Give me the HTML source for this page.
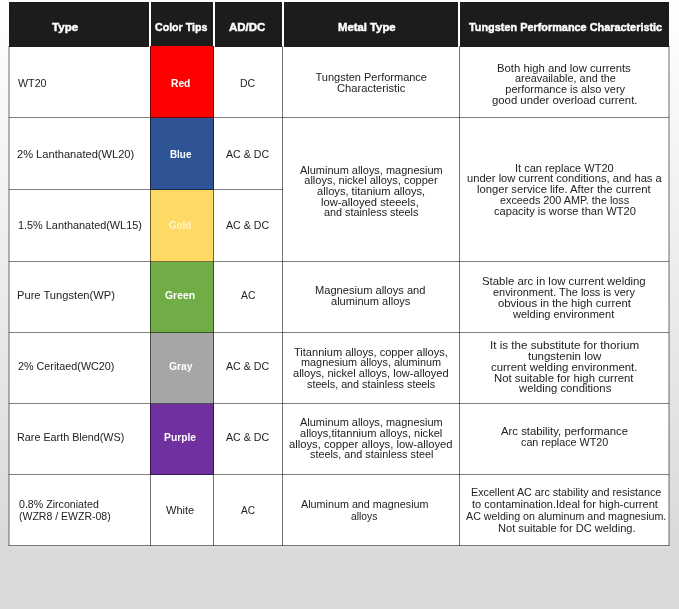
<!DOCTYPE html>
<html><head><meta charset="utf-8">
<style>
html,body{margin:0;padding:0}
body{width:679px;height:609px;overflow:hidden;position:relative;
 background:linear-gradient(to bottom,#ffffff 0px,#dadada 545px,#dadada 609px);
 font-family:"Liberation Sans",sans-serif;color:#222;}
#tbl{position:absolute;left:9px;top:2px;width:660px;height:543.5px;background:#fff}
.a{position:absolute}
.hd{background:#1c1c1c;top:2px;height:44.6px}
.hl{background:#808080;height:1px;left:9px;width:660px;mix-blend-mode:multiply}
.vl{background:#747474;width:1px;top:46px;height:500px;mix-blend-mode:multiply}
.sw{left:150px;width:64px;box-sizing:border-box}
.t{position:absolute;white-space:nowrap;font-size:11px;line-height:12px;height:12px;transform-origin:0 50%}
.h{color:#fff;font-weight:bold;font-size:11.8px;-webkit-text-stroke:0.45px currentColor}
.w{color:#fff;font-weight:bold}
.g{color:#fff3c9}
</style></head><body>
<div id="tbl"></div>
<div class="a hd" style="left:9px;width:140.2px"></div>
<div class="a hd" style="left:151px;width:62.2px"></div>
<div class="a hd" style="left:215.3px;width:66.5px"></div>
<div class="a hd" style="left:283.6px;width:174.6px"></div>
<div class="a hd" style="left:460.4px;width:209.1px"></div>
<div class="a sw" style="top:46px;height:71.5px;background:#fe0000"></div>
<div class="a sw" style="top:117.5px;height:72px;background:#2f5496"></div>
<div class="a sw" style="top:189.5px;height:72px;background:#ffd966"></div>
<div class="a sw" style="top:261.5px;height:71px;background:#70ad47"></div>
<div class="a sw" style="top:332.5px;height:71px;background:#a6a6a6"></div>
<div class="a sw" style="top:403.5px;height:71px;background:#7030a0"></div>
<div class="a hl" style="top:117px"></div>
<div class="a hl" style="top:189px;width:274px"></div>
<div class="a hl" style="top:261px"></div>
<div class="a hl" style="top:332px"></div>
<div class="a hl" style="top:403px"></div>
<div class="a hl" style="top:474px"></div>
<div class="a hl" style="top:545.3px;background:#7c7c7c"></div>
<div class="a" style="left:9px;width:661px;top:547px;height:1px;background:#e1e1e1"></div>
<div class="a vl" style="left:8.2px;width:1.8px;background:#b6b6b6"></div>
<div class="a vl" style="left:149.8px"></div>
<div class="a vl" style="left:213px"></div>
<div class="a vl" style="left:282px"></div>
<div class="a vl" style="left:458.5px"></div>
<div class="a vl" style="left:668.2px;width:1.8px;background:#b6b6b6"></div>

<div class="t h" style="left:51.70px;top:20.71px;transform:scaleX(0.9818)">Type</div>
<div class="t h" style="left:154.70px;top:20.71px;transform:scaleX(0.9001)">Color Tips</div>
<div class="t h" style="left:229.10px;top:20.71px;transform:scaleX(0.9737)">AD/DC</div>
<div class="t h" style="left:338.10px;top:20.71px;transform:scaleX(0.9584)">Metal Type</div>
<div class="t h" style="left:468.90px;top:20.71px;transform:scaleX(0.9217)">Tungsten Performance Characteristic</div>
<div class="t" style="left:17.70px;top:76.89px;transform:scaleX(0.9727)">WT20</div>
<div class="t" style="left:17.30px;top:147.69px;transform:scaleX(1.0088)">2% Lanthanated(WL20)</div>
<div class="t" style="left:18.30px;top:218.89px;transform:scaleX(0.9881)">1.5% Lanthanated(WL15)</div>
<div class="t" style="left:17.30px;top:289.39px;transform:scaleX(1.0137)">Pure Tungsten(WP)</div>
<div class="t" style="left:18.30px;top:360.29px;transform:scaleX(0.9795)">2% Ceritaed(WC20)</div>
<div class="t" style="left:17.30px;top:431.19px;transform:scaleX(0.9806)">Rare Earth Blend(WS)</div>
<div class="t" style="left:19.10px;top:498.19px;transform:scaleX(0.9671)">0.8% Zirconiated</div>
<div class="t" style="left:18.90px;top:510.39px;transform:scaleX(0.9558)">(WZR8 / EWZR-08)</div>
<div class="t w" style="left:171.10px;top:76.89px;transform:scaleX(0.9313)">Red</div>
<div class="t w" style="left:169.50px;top:147.69px;transform:scaleX(0.8963)">Blue</div>
<div class="t w g" style="left:169.10px;top:218.89px;transform:scaleX(0.8888)">Gold</div>
<div class="t w" style="left:164.70px;top:289.39px;transform:scaleX(0.9459)">Green</div>
<div class="t w" style="left:168.70px;top:360.29px;transform:scaleX(0.9404)">Gray</div>
<div class="t w" style="left:164.10px;top:431.19px;transform:scaleX(0.9377)">Purple</div>
<div class="t" style="left:165.90px;top:504.39px;transform:scaleX(1.0041)">White</div>
<div class="t" style="left:240.10px;top:76.89px;transform:scaleX(0.9535)">DC</div>
<div class="t" style="left:226.10px;top:147.69px;transform:scaleX(0.9671)">AC &amp; DC</div>
<div class="t" style="left:226.10px;top:218.89px;transform:scaleX(0.9671)">AC &amp; DC</div>
<div class="t" style="left:240.70px;top:289.39px;transform:scaleX(0.9419)">AC</div>
<div class="t" style="left:226.10px;top:360.29px;transform:scaleX(0.9671)">AC &amp; DC</div>
<div class="t" style="left:226.10px;top:431.19px;transform:scaleX(0.9671)">AC &amp; DC</div>
<div class="t" style="left:241.10px;top:504.39px;transform:scaleX(0.9214)">AC</div>
<div class="t" style="left:315.50px;top:71.09px">Tungsten Performance</div>
<div class="t" style="left:337.30px;top:82.09px;transform:scaleX(1.0154)">Characteristic</div>
<div class="t" style="left:299.90px;top:163.69px;transform:scaleX(0.9972)">Aluminum alloys, magnesium</div>
<div class="t" style="left:304.30px;top:174.39px">alloys, nickel alloys, copper</div>
<div class="t" style="left:316.50px;top:185.09px;transform:scaleX(1.0113)">alloys, titanium alloys,</div>
<div class="t" style="left:321.10px;top:195.79px;transform:scaleX(1.0190)">low-alloyed steeels,</div>
<div class="t" style="left:324.10px;top:206.49px;transform:scaleX(0.9822)">and stainless steels</div>
<div class="t" style="left:315.30px;top:283.89px;transform:scaleX(1.0093)">Magnesium alloys and</div>
<div class="t" style="left:330.90px;top:294.89px;transform:scaleX(1.0065)">aluminum alloys</div>
<div class="t" style="left:294.10px;top:345.69px;transform:scaleX(1.0053)">Titannium alloys, copper alloys,</div>
<div class="t" style="left:301.10px;top:356.39px;transform:scaleX(0.9880)">magnesium alloys, aluminum</div>
<div class="t" style="left:293.10px;top:367.09px;transform:scaleX(1.0059)">alloys, nickel alloys, low-alloyed</div>
<div class="t" style="left:306.70px;top:377.79px;transform:scaleX(0.9793)">steels, and stainless steels</div>
<div class="t" style="left:299.90px;top:416.19px;transform:scaleX(0.9972)">Aluminum alloys, magnesium</div>
<div class="t" style="left:299.90px;top:426.89px;transform:scaleX(1.0078)">alloys,titannium alloys, nickel</div>
<div class="t" style="left:288.70px;top:437.59px;transform:scaleX(1.0214)">alloys, copper alloys, low-alloyed</div>
<div class="t" style="left:309.70px;top:448.29px;transform:scaleX(0.9840)">steels, and stainless steel</div>
<div class="t" style="left:300.90px;top:498.19px;transform:scaleX(0.9792)">Aluminum and magnesium</div>
<div class="t" style="left:351.10px;top:509.99px;transform:scaleX(0.9348)">alloys</div>
<div class="t" style="left:496.90px;top:61.69px;transform:scaleX(1.0270)">Both high and low currents</div>
<div class="t" style="left:514.50px;top:72.39px;transform:scaleX(0.9873)">areavailable, and the</div>
<div class="t" style="left:505.30px;top:83.09px">performance is also very</div>
<div class="t" style="left:491.50px;top:93.79px;transform:scaleX(1.0298)">good under overload current.</div>
<div class="t" style="left:515.10px;top:161.59px;transform:scaleX(1.0021)">It can replace WT20</div>
<div class="t" style="left:466.50px;top:172.29px;transform:scaleX(1.0141)">under low current conditions, and has a</div>
<div class="t" style="left:477.30px;top:182.99px;transform:scaleX(1.0214)">longer service life. After the current</div>
<div class="t" style="left:500.10px;top:193.79px;transform:scaleX(0.9840)">exceeds 200 AMP. the loss</div>
<div class="t" style="left:494.30px;top:204.59px;transform:scaleX(1.0085)">capacity is worse than WT20</div>
<div class="t" style="left:482.30px;top:275.29px;transform:scaleX(1.0336)">Stable arc in low current welding</div>
<div class="t" style="left:492.90px;top:286.09px;transform:scaleX(0.9937)">environment. The loss is very</div>
<div class="t" style="left:498.10px;top:296.89px;transform:scaleX(1.0303)">obvious in the high current</div>
<div class="t" style="left:512.70px;top:307.69px;transform:scaleX(1.0030)">welding environment</div>
<div class="t" style="left:489.90px;top:339.49px;transform:scaleX(1.0557)">It is the substitute for thorium</div>
<div class="t" style="left:528.30px;top:350.19px;transform:scaleX(1.0437)">tungstenin low</div>
<div class="t" style="left:490.90px;top:360.89px;transform:scaleX(1.0369)">current welding environment.</div>
<div class="t" style="left:494.30px;top:371.59px;transform:scaleX(1.0321)">Not suitable for high current</div>
<div class="t" style="left:518.50px;top:382.29px;transform:scaleX(1.0267)">welding conditions</div>
<div class="t" style="left:500.70px;top:425.49px;transform:scaleX(1.0301)">Arc stability, performance</div>
<div class="t" style="left:520.90px;top:436.29px;transform:scaleX(0.9775)">can replace WT20</div>
<div class="t" style="left:470.50px;top:485.99px;transform:scaleX(0.9758)">Excellent AC arc stability and resistance</div>
<div class="t" style="left:471.50px;top:497.79px;transform:scaleX(1.0033)">to contamination.Ideal for high-current</div>
<div class="t" style="left:465.50px;top:509.79px;transform:scaleX(0.9723)">AC welding on aluminum and magnesium.</div>
<div class="t" style="left:498.10px;top:521.89px;transform:scaleX(1.0089)">Not suitable for DC welding.</div>
</body></html>
